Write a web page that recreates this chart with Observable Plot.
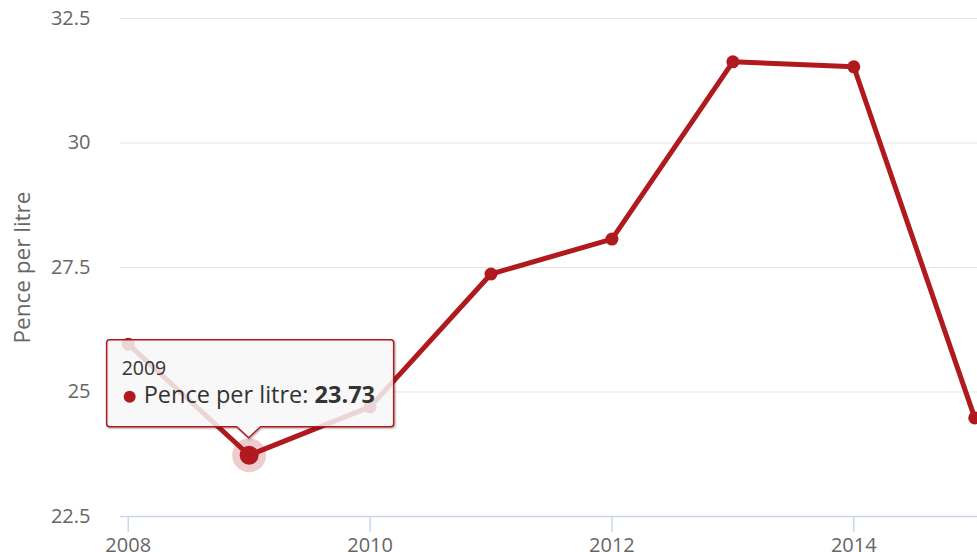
<!DOCTYPE html>
<html><head><meta charset="utf-8">
<script src="https://cdn.jsdelivr.net/npm/d3@7"></script>
<script src="https://cdn.jsdelivr.net/npm/@observablehq/plot@0.6"></script>
<style>html,body{margin:0;padding:0;background:#fff;overflow:hidden}</style>
</head><body><div id="chart"></div>
<script>
const years = [2008, 2009, 2010, 2011, 2012, 2013, 2014, 2015];
const pence = [25.96, 23.73, 24.70, 27.37, 28.07, 31.63, 31.53, 24.48];
const yTicks = [22.5, 25, 27.5, 30, 32.5];
const xTicks = [2008, 2010, 2012, 2014];
const seriesName = "Pence per litre";
const hoverYear = 2009;

const data = years.map((year, i) => ({year, value: pence[i]}));
const hovered = data.filter(d => d.year === hoverYear);
const red = "#b01a1e";

function tooltipRender(index, scales, values) {
  const g = d3.create("svg:g").attr("text-anchor", "start");
  for (const i of index) {
    const px = values.x[i], py = values.y[i];
    const d = hovered[i];
    const L = px - 142, R = px + 145, T = py - 115, B = py - 28, tip = py - 17, hw = 12, rr = 3;
    const path = `M${L+rr},${T} H${R-rr} Q${R},${T} ${R},${T+rr} V${B-rr} Q${R},${B} ${R-rr},${B} H${px+hw} L${px},${tip} L${px-hw},${B} H${L+rr} Q${L},${B} ${L},${B-rr} V${T+rr} Q${L},${T} ${L+rr},${T} Z`;
    for (const [w, op] of [[5, 0.04], [3, 0.08], [1.5, 0.14]]) {
      g.append("path").attr("d", path).attr("transform", "translate(1,1)")
        .attr("fill", "none").attr("stroke", "#000").attr("stroke-opacity", op).attr("stroke-width", w);
    }
    g.append("path").attr("d", path).attr("fill", "rgba(247,247,247,0.85)")
      .attr("stroke", red).attr("stroke-width", 1.5);
    g.append("text").attr("x", L + 15).attr("y", T + 35).attr("font-size", 19.5)
      .attr("text-anchor", "start").attr("fill", "#333").text(String(d.year));
    g.append("circle").attr("cx", L + 23).attr("cy", T + 57).attr("r", 6).attr("fill", red);
    const t = g.append("text").attr("x", L + 37).attr("y", T + 63).attr("font-size", 23.5)
      .attr("text-anchor", "start").attr("fill", "#333");
    t.append("tspan").text(seriesName + ": ");
    t.append("tspan").attr("font-weight", "bold").text(d.value.toFixed(2));
  }
  return g.node();
}

const chart = Plot.plot({
  width: 977,
  height: 552,
  marginLeft: 120,
  marginRight: 0,
  marginTop: 18,
  marginBottom: 36,
  style: {fontFamily: "'Open Sans', sans-serif", fontSize: "20px", color: "#666", background: "#fff"},
  x: {domain: [2007.936, 2015.023]},
  y: {domain: [22.5, 32.5]},
  marks: [
    Plot.gridY(yTicks, {stroke: "#e6e6e6", strokeOpacity: 1, strokeWidth: 1.2}),
    Plot.ruleY([22.5], {stroke: "#ccd6eb", strokeWidth: 1.5}),
    Plot.axisY(yTicks, {tickSize: 0, tickPadding: 30, tickFormat: d => String(d), fill: "#666", label: null}),
    Plot.axisX(xTicks, {tickSize: 16, tickPadding: 5, tickFormat: d => String(d), stroke: "#ccd6eb", strokeWidth: 1.5, fill: "#666", label: null}),
    Plot.text([seriesName], {frameAnchor: "left", text: d => d, rotate: -90, dx: -98, textAnchor: "middle", fill: "#666", fontSize: 22.5}),
    Plot.line(data, {x: "year", y: "value", stroke: red, strokeWidth: 5, strokeLinejoin: "round"}),
    Plot.dot(data, {x: "year", y: "value", r: 6.5, fill: red}),
    Plot.dot(hovered, {x: "year", y: "value", r: 17, fill: red, fillOpacity: 0.22}),
    Plot.dot(hovered, {x: "year", y: "value", r: 9.5, fill: red}),
    Plot.dot(hovered, {x: "year", y: "value", r: 1, fill: "none", render: tooltipRender})
  ]
});
document.getElementById("chart").appendChild(chart);
</script>
</body></html>
